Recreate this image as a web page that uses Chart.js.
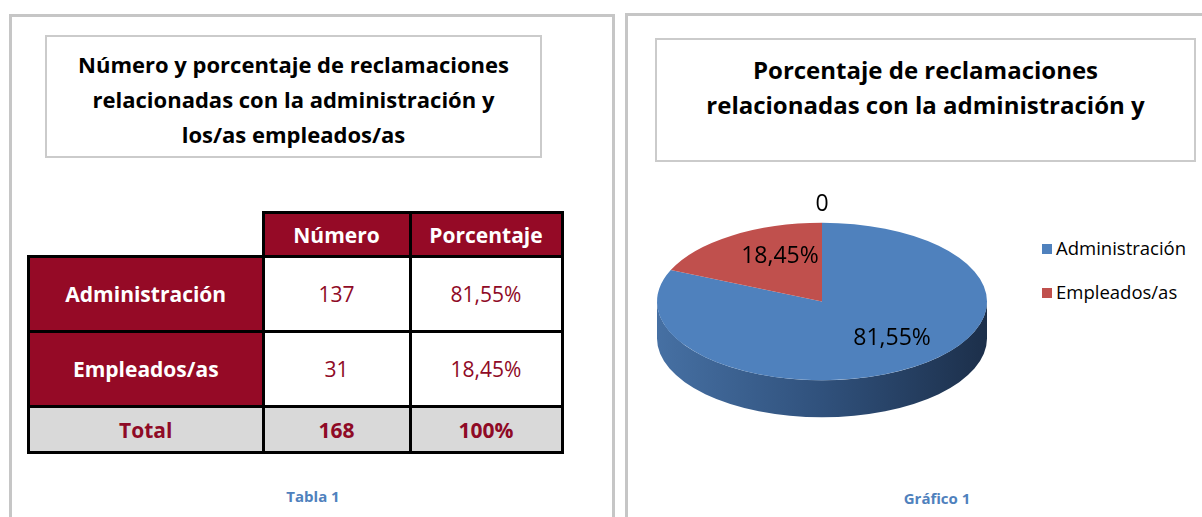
<!DOCTYPE html>
<html>
<head>
<meta charset="utf-8">
<script src="https://cdn.jsdelivr.net/npm/chart.js@4.4.0/dist/chart.umd.min.js"></script>
<style>
  body { margin: 0; width: 1202px; height: 517px; overflow: hidden; background: #fff; font-family: "Open Sans", sans-serif; position: relative; }
  .panel { position: absolute; border: 3px solid #c6c6c6; box-sizing: border-box; }
  .titlebox { position: absolute; border: 2px solid #cbcbcb; box-sizing: border-box; background: #fff; text-align: center; font-weight: bold; color: #000; overflow: hidden; }
  .caption { position: absolute; color: #4f81bd; font-weight: bold; font-size: 15px; text-align: center; }
  table { position: absolute; border-collapse: collapse; font-size: 21px; }
  td { text-align: center; padding: 0; }
  .hd { background: #950a26; color: #fff; font-weight: bold; border: 3px solid #000; }
  .rowhd { background: #950a26; color: #fff; font-weight: bold; border: 3px solid #000; }
  .val { background: #fff; color: #8f0a26; border: 3px solid #000; }
  .tot { background: #d9d9d9; color: #8f0a26; font-weight: bold; border: 3px solid #000; }
  #legend { position: absolute; left: 1042px; top: 235px; font-size: 18.5px; color: #000; }
  #legend div { height: 44px; display: flex; align-items: flex-start; }
  #legend span.sw { display: inline-block; width: 10px; height: 10px; margin-right: 4px; margin-top: 9px; }
</style>
</head>
<body>
<div class="panel" style="left:9px; top:14px; width:606px; height:520px;"></div>
<div class="panel" style="left:625px; top:13px; width:600px; height:520px;"></div>

<div class="titlebox" style="left:45px; top:35px; width:497px; height:123px; font-size:22px; line-height:35px; padding-top:10px;">
  Número y porcentaje de reclamaciones<br>relacionadas con la administración y<br>los/as empleados/as
</div>
<div class="titlebox" style="left:655px; top:38px; width:541px; height:124px; font-size:24px; line-height:35px; padding-top:12px;">
  Porcentaje de reclamaciones<br>relacionadas con la administración y
</div>

<table id="tbl" style="left:27px; top:211px;"></table>
<div class="caption" style="left:263px; top:486px; width:100px;">Tabla 1</div>
<div class="caption" style="left:887px; top:488px; width:100px;">Gráfico 1</div>

<div id="legend"></div>
<canvas id="pieCanvas" width="574" height="352" style="position:absolute; left:628px; top:165px;"></canvas>

<script>
// datos de la tabla y del gráfico
const categories = ["Administración", "Empleados/as"];
const counts = [137, 31];
const percentLabels = ["81,55%", "18,45%"];
const totalRow = ["Total", "168", "100%"];
const columnHeaders = ["Número", "Porcentaje"];
const pieValues = [81.55, 18.45, 0];
const pieLabels = ["81,55%", "18,45%", "0"];
const colors = ["#4f81bd", "#c0504d", "#9bbb59"];

// tabla
const colWidths = [144, 149];
const tbl = document.getElementById("tbl");
let html = `<tr style="height:44px"><td style="width:233px;border:none"></td>`;
columnHeaders.forEach((h, i) => { html += `<td class="hd" style="width:${colWidths[i]}px">${h}</td>`; });
html += `</tr>`;
categories.forEach((c, i) => {
  html += `<tr style="height:75px"><td class="rowhd">${c}</td><td class="val">${counts[i]}</td><td class="val">${percentLabels[i]}</td></tr>`;
});
html += `<tr style="height:46px"><td class="tot">${totalRow[0]}</td><td class="tot">${totalRow[1]}</td><td class="tot">${totalRow[2]}</td></tr>`;
tbl.innerHTML = html;

// leyenda
const legend = document.getElementById("legend");
categories.forEach((c, i) => {
  legend.innerHTML += `<div><span class="sw" style="background:${colors[i]}"></span>${c}</div>`;
});

// pastel 3D: se aplasta verticalmente y se dibuja el canto
const tilt = 0.477;
const depth = 37;
const targetY = 136.5;

const pie3d = {
  id: "pie3d",
  beforeDatasetsDraw(chart) {
    const ctx = chart.ctx;
    const meta = chart.getDatasetMeta(0);
    const first = meta.data[0];
    const cx = first.x, cy = first.y, r = first.outerRadius, ry = r * tilt;
    const grad = ctx.createLinearGradient(cx - r, 0, cx + r, 0);
    grad.addColorStop(0, "#4670a3");
    grad.addColorStop(0.5, "#30517c");
    grad.addColorStop(1, "#1c2f4a");
    meta.data.forEach((arc) => {
      if (arc.circumference <= 0) return;
      [-2, 0, 2].forEach((n) => {
        const lo = Math.max(arc.startAngle, n * Math.PI);
        const hi = Math.min(arc.endAngle, (n + 1) * Math.PI);
        if (hi <= lo) return;
        ctx.beginPath();
        ctx.ellipse(cx, targetY, r, ry, 0, lo, hi);
        ctx.ellipse(cx, targetY + depth, r, ry, 0, hi, lo, true);
        ctx.closePath();
        ctx.fillStyle = grad;
        ctx.fill();
      });
    });
    ctx.save();
    ctx.translate(0, targetY);
    ctx.scale(1, tilt);
    ctx.translate(0, -cy);
  },
  afterDatasetsDraw(chart) {
    const ctx = chart.ctx;
    ctx.restore();
    const meta = chart.getDatasetMeta(0);
    const r = meta.data[0].outerRadius;
    ctx.save();
    ctx.fillStyle = "#000";
    ctx.font = "23px 'Open Sans'";
    ctx.textAlign = "center";
    ctx.textBaseline = "middle";
    meta.data.forEach((arc, i) => {
      const mid = (arc.startAngle + arc.endAngle) / 2;
      let x, y;
      if (arc.circumference <= 0) {
        x = arc.x;
        y = targetY - r * tilt - 18;
      } else {
        x = arc.x + Math.cos(mid) * r * 0.62 + 14;
        y = targetY + Math.sin(mid) * r * tilt * 0.62 - 4;
      }
      ctx.fillText(pieLabels[i], x, y);
    });
    ctx.restore();
  }
};

new Chart(document.getElementById("pieCanvas"), {
  type: "pie",
  data: {
    labels: [...categories, ""],
    datasets: [{
      data: pieValues,
      backgroundColor: colors,
      borderWidth: 0
    }]
  },
  options: {
    responsive: false,
    animation: false,
    layout: { padding: { left: 29, right: 215, top: 0, bottom: 22 } },
    plugins: {
      legend: { display: false },
      tooltip: { enabled: false }
    }
  },
  plugins: [pie3d]
});
</script>
</body>
</html>
